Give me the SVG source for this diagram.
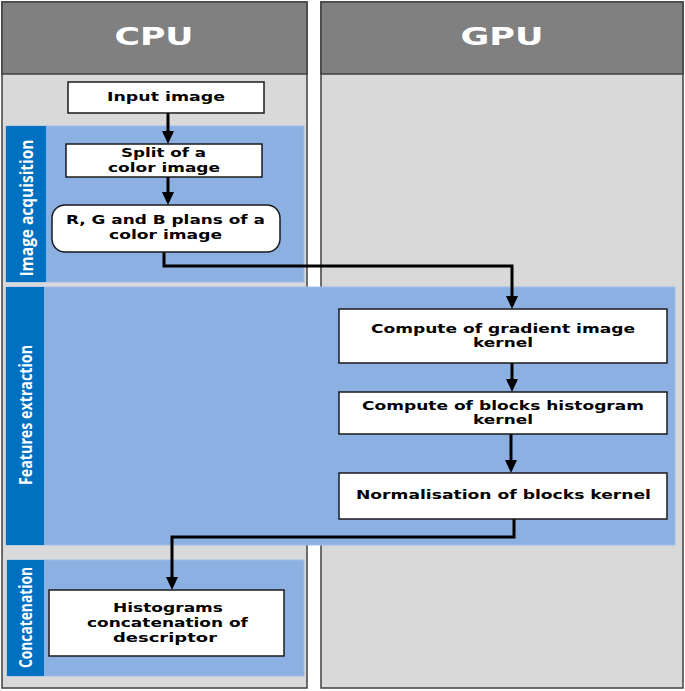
<svg xmlns="http://www.w3.org/2000/svg" width="685" height="691" viewBox="0 0 685 691">
<defs>
<style>
.col{fill:#D9D9D9;stroke:#404040;stroke-width:1.5}
.hdr{fill:#808080;stroke:#404040;stroke-width:1.5}
.hdrt{font-family:"DejaVu Sans",Verdana,sans-serif;font-weight:bold;font-size:24px;fill:#FFFFFF;text-anchor:middle}
.band{fill:#8DB0E3;stroke:#9FBDE8;stroke-width:1}
.strip{fill:#0070C0}
.lbl{font-family:"Open Sans","Liberation Sans",sans-serif;font-weight:bold;font-size:17px;fill:#FFFFFF;text-anchor:middle}
.box{fill:#FFFFFF;stroke:#1A1A1A;stroke-width:1.5}
.t{font-family:"DejaVu Sans",Verdana,sans-serif;font-weight:bold;font-size:13px;fill:#000000;text-anchor:middle}
.conn{fill:none;stroke:#000000;stroke-width:3}
</style>
<marker id="ah" viewBox="0 0 13 12" refX="9" refY="6" markerWidth="13" markerHeight="12" markerUnits="userSpaceOnUse" orient="auto">
<path d="M0,0 L13,6 L0,12 z" fill="#000000"/>
</marker>
</defs>

<g id="lane-cpu">
<rect class="col" x="2" y="2" width="305" height="686"/>
<rect class="hdr" x="2" y="2" width="305" height="72"/>
<text class="hdrt" x="154" y="45" textLength="79" lengthAdjust="spacingAndGlyphs">CPU</text>
</g>
<g id="lane-gpu">
<rect class="col" x="321" y="2" width="362" height="686"/>
<rect class="hdr" x="321" y="2" width="362" height="72"/>
<text class="hdrt" x="502" y="45" textLength="83" lengthAdjust="spacingAndGlyphs">GPU</text>
</g>

<g id="band-acquisition">
<rect class="band" x="6" y="126" width="298" height="156"/>
<rect class="strip" x="6" y="126" width="40" height="156"/>
<text class="lbl" transform="translate(32.5,208) rotate(-90)" x="0" y="0" textLength="137" lengthAdjust="spacingAndGlyphs">Image acquisition</text>
</g>
<g id="band-features">
<rect class="band" x="6" y="287" width="669" height="258"/>
<rect class="strip" x="6" y="287" width="38" height="258"/>
<text class="lbl" transform="translate(32,415) rotate(-90)" x="0" y="0" textLength="140" lengthAdjust="spacingAndGlyphs">Features extraction</text>
</g>
<g id="band-concatenation">
<rect class="band" x="7" y="560" width="297" height="116"/>
<rect class="strip" x="7" y="560" width="37" height="116"/>
<text class="lbl" transform="translate(32,617.5) rotate(-90)" x="0" y="0" textLength="101" lengthAdjust="spacingAndGlyphs">Concatenation</text>
</g>

<g id="connectors">
<path class="conn" d="M168,113 L168,140" marker-end="url(#ah)"/>
<path class="conn" d="M168,177 L168,201" marker-end="url(#ah)"/>
<path class="conn" d="M164,252 L164,266 L512,266 L512,305" marker-end="url(#ah)"/>
<path class="conn" d="M512,363 L512,388" marker-end="url(#ah)"/>
<path class="conn" d="M511,434 L511,469" marker-end="url(#ah)"/>
<path class="conn" d="M514,519 L514,537 L172,537 L172,586" marker-end="url(#ah)"/>
</g>

<g id="node-input">
<rect class="box" x="68" y="82" width="196" height="31"/>
<text class="t" x="166" y="101" textLength="118" lengthAdjust="spacingAndGlyphs">Input image</text>
</g>
<g id="node-split">
<rect class="box" x="66" y="144" width="196" height="33"/>
<text class="t" x="163.5" y="157" textLength="85" lengthAdjust="spacingAndGlyphs">Split of a</text>
<text class="t" x="164" y="172" textLength="112" lengthAdjust="spacingAndGlyphs">color image</text>
</g>
<g id="node-rgb">
<rect class="box" x="52" y="205" width="228" height="47" rx="13" ry="13"/>
<text class="t" x="165.5" y="224" textLength="199" lengthAdjust="spacingAndGlyphs">R, G and B plans of a</text>
<text class="t" x="165.5" y="239" textLength="113" lengthAdjust="spacingAndGlyphs">color image</text>
</g>
<g id="node-gradient">
<rect class="box" x="339" y="309" width="328" height="54"/>
<text class="t" x="503" y="333" textLength="264" lengthAdjust="spacingAndGlyphs">Compute of gradient image</text>
<text class="t" x="503" y="347" textLength="60" lengthAdjust="spacingAndGlyphs">kernel</text>
</g>
<g id="node-histogram">
<rect class="box" x="339" y="392" width="328" height="42"/>
<text class="t" x="503" y="410" textLength="282" lengthAdjust="spacingAndGlyphs">Compute of blocks histogram</text>
<text class="t" x="503" y="424" textLength="60" lengthAdjust="spacingAndGlyphs">kernel</text>
</g>
<g id="node-normalisation">
<rect class="box" x="339" y="473" width="328" height="46"/>
<text class="t" x="503.5" y="499" textLength="295" lengthAdjust="spacingAndGlyphs">Normalisation of blocks kernel</text>
</g>
<g id="node-histograms">
<rect class="box" x="49" y="590" width="235" height="66"/>
<text class="t" x="168" y="612" textLength="110" lengthAdjust="spacingAndGlyphs">Histograms</text>
<text class="t" x="167.5" y="627" textLength="161" lengthAdjust="spacingAndGlyphs">concatenation of</text>
<text class="t" x="165" y="642" textLength="104" lengthAdjust="spacingAndGlyphs">descriptor</text>
</g>
</svg>
